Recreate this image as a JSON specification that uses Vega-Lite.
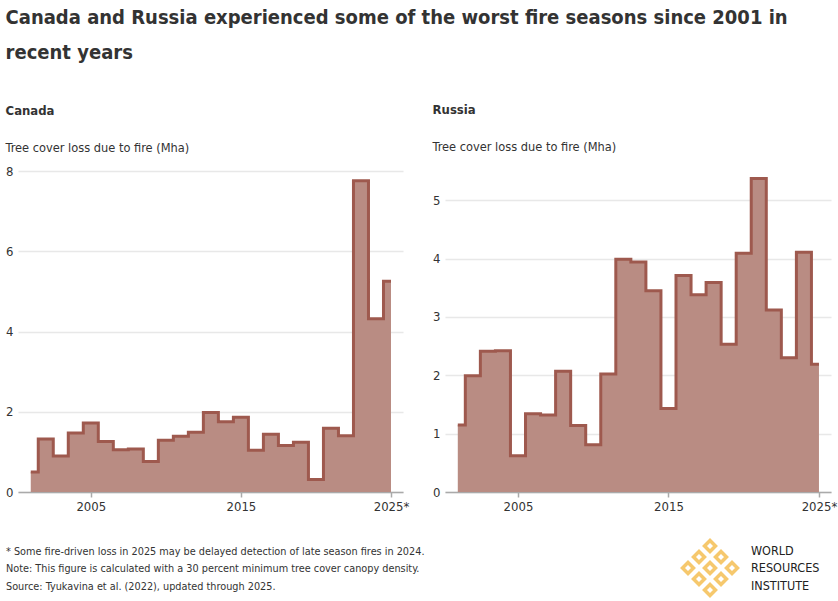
{
  "$schema": "https://vega.github.io/schema/vega-lite/v6.json",
  "description": "Tree cover loss due to fire, Canada and Russia, 2001-2025",
  "background": "white",
  "padding": {"left": 5, "right": 1, "top": 8, "bottom": 2},
  "title": {
    "text": ["Canada and Russia experienced some of the worst fire seasons since 2001 in", "recent years"],
    "anchor": "start",
    "frame": "bounds",
    "font": "DejaVu Sans Condensed, Roboto, sans-serif",
    "fontSize": 20,
    "fontWeight": "bold",
    "color": "#333333",
    "lineHeight": 35,
    "offset": 41
  },
  "datasets": {
    "fire": [
      {"country": "Canada", "year": 2001, "loss": 0.50},
      {"country": "Canada", "year": 2002, "loss": 1.32},
      {"country": "Canada", "year": 2003, "loss": 0.90},
      {"country": "Canada", "year": 2004, "loss": 1.47},
      {"country": "Canada", "year": 2005, "loss": 1.72},
      {"country": "Canada", "year": 2006, "loss": 1.26},
      {"country": "Canada", "year": 2007, "loss": 1.05},
      {"country": "Canada", "year": 2008, "loss": 1.07},
      {"country": "Canada", "year": 2009, "loss": 0.76},
      {"country": "Canada", "year": 2010, "loss": 1.29},
      {"country": "Canada", "year": 2011, "loss": 1.39},
      {"country": "Canada", "year": 2012, "loss": 1.49},
      {"country": "Canada", "year": 2013, "loss": 1.98},
      {"country": "Canada", "year": 2014, "loss": 1.75},
      {"country": "Canada", "year": 2015, "loss": 1.86},
      {"country": "Canada", "year": 2016, "loss": 1.04},
      {"country": "Canada", "year": 2017, "loss": 1.44},
      {"country": "Canada", "year": 2018, "loss": 1.16},
      {"country": "Canada", "year": 2019, "loss": 1.24},
      {"country": "Canada", "year": 2020, "loss": 0.31},
      {"country": "Canada", "year": 2021, "loss": 1.59},
      {"country": "Canada", "year": 2022, "loss": 1.40},
      {"country": "Canada", "year": 2023, "loss": 7.76},
      {"country": "Canada", "year": 2024, "loss": 4.32},
      {"country": "Canada", "year": 2025, "loss": 5.25},
      {"country": "Russia", "year": 2001, "loss": 1.15},
      {"country": "Russia", "year": 2002, "loss": 1.99},
      {"country": "Russia", "year": 2003, "loss": 2.41},
      {"country": "Russia", "year": 2004, "loss": 2.42},
      {"country": "Russia", "year": 2005, "loss": 0.62},
      {"country": "Russia", "year": 2006, "loss": 1.34},
      {"country": "Russia", "year": 2007, "loss": 1.32},
      {"country": "Russia", "year": 2008, "loss": 2.07},
      {"country": "Russia", "year": 2009, "loss": 1.14},
      {"country": "Russia", "year": 2010, "loss": 0.81},
      {"country": "Russia", "year": 2011, "loss": 2.02},
      {"country": "Russia", "year": 2012, "loss": 3.99},
      {"country": "Russia", "year": 2013, "loss": 3.94},
      {"country": "Russia", "year": 2014, "loss": 3.45},
      {"country": "Russia", "year": 2015, "loss": 1.43},
      {"country": "Russia", "year": 2016, "loss": 3.71},
      {"country": "Russia", "year": 2017, "loss": 3.38},
      {"country": "Russia", "year": 2018, "loss": 3.59},
      {"country": "Russia", "year": 2019, "loss": 2.53},
      {"country": "Russia", "year": 2020, "loss": 4.09},
      {"country": "Russia", "year": 2021, "loss": 5.37},
      {"country": "Russia", "year": 2022, "loss": 3.12},
      {"country": "Russia", "year": 2023, "loss": 2.30},
      {"country": "Russia", "year": 2024, "loss": 4.11},
      {"country": "Russia", "year": 2025, "loss": 2.19}
    ],
    "notes": [
      {"col": -12, "row": 11, "kind": "note", "text": "* Some fire-driven loss in 2025 may be delayed detection of late season fires in 2024."},
      {"col": -12, "row": 28, "kind": "note", "text": "Note: This figure is calculated with a 30 percent minimum tree cover canopy density."},
      {"col": -12, "row": 46, "kind": "note", "text": "Source: Tyukavina et al. (2022), updated through 2025."},
      {"col": 733, "row": 10, "kind": "wri", "text": "WORLD"},
      {"col": 733, "row": 27, "kind": "wri", "text": "RESOURCES"},
      {"col": 733, "row": 45, "kind": "wri", "text": "INSTITUTE"}
    ],
    "logo": [
      {"col": 692, "row": 5},
      {"col": 681, "row": 16},
      {"col": 703, "row": 16},
      {"col": 670, "row": 27},
      {"col": 692, "row": 27},
      {"col": 714, "row": 27},
      {"col": 681, "row": 38},
      {"col": 703, "row": 38},
      {"col": 692, "row": 49}
    ]
  },
  "vconcat": [
    {
      "hconcat": [
        {
          "title": {"text": "Canada", "subtitle": "Tree cover loss due to fire (Mha)", "offset": 10},
          "width": 385,
          "height": 321,
          "data": {"name": "fire"},
          "transform": [{"filter": "datum.country === 'Canada'"}],
          "encoding": {
            "x": {
              "field": "year", "type": "quantitative",
              "scale": {"domain": [2000.15, 2025.8], "nice": false, "zero": false},
              "axis": {"values": [2005, 2015, 2025], "labelExpr": "datum.value === 2025 ? '2025*' : datum.value"}
            },
            "y": {
              "field": "loss", "type": "quantitative",
              "scale": {"domain": [0, 8], "nice": false},
              "axis": {"values": [0, 2, 4, 6, 8], "grid": true, "orient": "left"}
            }
          },
          "layer": [
            {"mark": {"type": "area", "interpolate": "step", "color": "#b98c83", "opacity": 1}},
            {"mark": {"type": "line", "interpolate": "step", "color": "#9e594e", "strokeWidth": 3}}
          ]
        },
        {
          "title": {"text": "Russia", "subtitle": "Tree cover loss due to fire (Mha)", "offset": 17},
          "width": 386,
          "height": 321,
          "data": {"name": "fire"},
          "transform": [{"filter": "datum.country === 'Russia'"}],
          "encoding": {
            "x": {
              "field": "year", "type": "quantitative",
              "scale": {"domain": [2000.15, 2025.8], "nice": false, "zero": false},
              "axis": {"values": [2005, 2015, 2025], "labelExpr": "datum.value === 2025 ? '2025*' : datum.value"}
            },
            "y": {
              "field": "loss", "type": "quantitative",
              "scale": {"domain": [0, 5.5], "nice": false},
              "axis": {"values": [0, 1, 2, 3, 4, 5], "grid": true, "orient": "left"}
            }
          },
          "layer": [
            {"mark": {"type": "area", "interpolate": "step", "color": "#b98c83", "opacity": 1}},
            {"mark": {"type": "line", "interpolate": "step", "color": "#9e594e", "strokeWidth": 3}}
          ]
        }
      ],
      "spacing": 23
    },
    {
      "width": 810,
      "height": 56,
      "layer": [
        {
          "data": {"name": "notes"},
          "mark": {"type": "text", "align": "left", "baseline": "middle"},
          "encoding": {
            "x": {"field": "col", "type": "quantitative", "scale": {"domain": [0, 810], "nice": false, "zero": false}, "axis": null},
            "y": {"field": "row", "type": "quantitative", "scale": {"domain": [0, 56], "reverse": true, "nice": false}, "axis": null},
            "text": {"field": "text"},
            "font": {"field": "kind", "scale": {"domain": ["note", "wri"], "range": ["DejaVu Sans Condensed, Roboto, sans-serif", "DejaVu Serif, Liberation Serif, serif"]}, "legend": null},
            "size": {"field": "kind", "scale": {"domain": ["note", "wri"], "range": [10.8, 12.5]}, "legend": null},
            "color": {"field": "kind", "scale": {"domain": ["note", "wri"], "range": ["#333333", "#222222"]}, "legend": null}
          }
        },
        {
          "data": {"name": "logo"},
          "mark": {"type": "point", "shape": "diamond", "filled": false, "color": "#f3b230", "strokeWidth": 3.5, "size": 120},
          "encoding": {
            "x": {"field": "col", "type": "quantitative"},
            "y": {"field": "row", "type": "quantitative"}
          }
        }
      ]
    }
  ],
  "spacing": 20,
  "config": {
    "font": "DejaVu Sans Condensed, Roboto, sans-serif",
    "view": {"stroke": null},
    "title": {
      "anchor": "start",
      "frame": "bounds",
      "fontSize": 13,
      "fontWeight": "bold",
      "color": "#333333",
      "subtitleFontSize": 12.7,
      "subtitleColor": "#333333",
      "subtitlePadding": 24
    },
    "axis": {
      "title": null,
      "labelFontSize": 13,
      "labelColor": "#333333",
      "gridColor": "#e8e8e8",
      "gridWidth": 1.5,
      "domainColor": "#aaaaaa",
      "domainWidth": 1.5,
      "tickColor": "#aaaaaa",
      "tickWidth": 1.5
    },
    "axisX": {"grid": false, "tickSize": 5, "labelPadding": 3, "labelFlush": false},
    "axisY": {"domain": false, "ticks": false, "tickSize": 0, "labelPadding": 5}
  }
}
